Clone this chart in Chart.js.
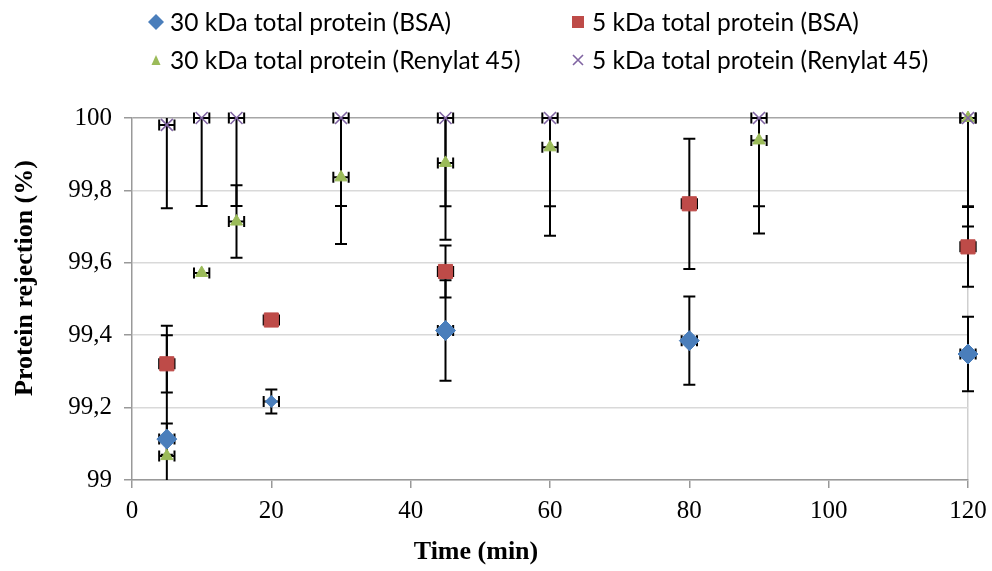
<!DOCTYPE html>
<html>
<head>
<meta charset="utf-8">
<title>Protein rejection</title>
<script src="https://cdn.jsdelivr.net/npm/chart.js@4.4.1/dist/chart.umd.min.js"></script>
<style>
  html, body { margin: 0; padding: 0; background: #fff; }
  #wrap { position: relative; width: 992px; height: 571px; }
  #legend { position: absolute; left: 0; top: 0; width: 992px; height: 80px; font-family: Lato, "Noto Sans", sans-serif; font-size: 24.5px; color: #000; }
  .item { position: absolute; height: 30px; line-height: 30px; white-space: nowrap; display: flex; align-items: center; }
  .item svg { width: 16px; height: 16px; margin-right: 6px; flex: none; }
</style>
</head>
<body>
<div id="wrap">
  <canvas id="myChart" width="992" height="571"></canvas>
  <div id="legend"></div>
</div>
<script>
// time points (min)
const timeBSA = [5, 20, 45, 80, 120];
const timeRen = [5, 10, 15, 30, 45, 60, 90, 120];

// protein rejection (%) and error (+/-)
const bsa30 = [99.113, 99.217, 99.413, 99.385, 99.348];
const bsa30Err = [0.043, 0.033, 0.139, 0.122, 0.103];
const bsa5 = [99.321, 99.442, 99.576, 99.763, 99.644];
const bsa5Err = [0.079, 0, 0.072, 0.18, 0.11];
const ren30 = [99.066, 99.572, 99.714, 99.836, 99.876, 99.919, 99.938, 100];
const ren30Err = [0.36, 0, 0.1, 0.184, 0.212, 0.244, 0.257, 0.3];
const ren5 = [99.981, 100, 100, 100, 100, 100, 100, 100];
const ren5Err = [0.23, 0.243, 0.243, 0.243, 0.244, 0.244, 0.244, 0.244];
const timeErr = 1.1; // small x error on every point

const seriesNames = [
  '30 kDa total protein (BSA)',
  '5 kDa total protein (BSA)',
  '30 kDa total protein (Renylat 45)',
  '5 kDa total protein (Renylat 45)'
];
const xTitle = 'Time (min)';
const yTitle = 'Protein rejection (%)';

const colors = ['#4a7ebb', '#be4b48', '#9bbb59', '#8064a2'];

function points(times, vals, errs) {
  return times.map((t, i) => ({ x: t, y: vals[i], yErr: errs[i], xErr: timeErr }));
}

// legend in two columns like the original
const legendIcons = [
  '<polygon points="8,0 16,8 8,16 0,8" fill="' + colors[0] + '"/>',
  '<rect x="2" y="2" width="12" height="12" fill="' + colors[1] + '"/>',
  '<polygon points="8,3 12.5,13 3.5,13" fill="' + colors[2] + '"/>',
  '<path d="M3,3 L13,13 M13,3 L3,13" stroke="' + colors[3] + '" stroke-width="1.6"/>'
];
const legendPos = [[148, 7], [570, 7], [148, 45], [570, 45]];
const legend = document.getElementById('legend');
seriesNames.forEach((name, i) => {
  const d = document.createElement('div');
  d.className = 'item';
  d.style.left = legendPos[i][0] + 'px';
  d.style.top = legendPos[i][1] + 'px';
  d.innerHTML = '<svg viewBox="0 0 16 16">' + legendIcons[i] + '</svg><span>' + name + '</span>';
  legend.appendChild(d);
});

// error bars, drawn under the markers
const errorBars = {
  id: 'errorBars',
  beforeDatasetsDraw(chart) {
    const { ctx, chartArea, scales } = chart;
    const x = scales.x, y = scales.y;
    ctx.save();
    ctx.strokeStyle = '#000';
    ctx.lineWidth = 2;
    chart.data.datasets.forEach(ds => {
      ds.data.forEach(p => {
        const px = x.getPixelForValue(p.x);
        const py = y.getPixelForValue(p.y);
        if (p.yErr > 0) {
          let top = y.getPixelForValue(p.y + p.yErr);
          let bot = y.getPixelForValue(p.y - p.yErr);
          const topCap = top >= chartArea.top - 1;
          const botCap = bot <= chartArea.bottom + 1;
          top = Math.max(top, chartArea.top);
          bot = Math.min(bot, chartArea.bottom);
          ctx.beginPath();
          ctx.moveTo(px, top); ctx.lineTo(px, bot);
          if (topCap) { ctx.moveTo(px - 6, top); ctx.lineTo(px + 6, top); }
          if (botCap) { ctx.moveTo(px - 6, bot); ctx.lineTo(px + 6, bot); }
          ctx.stroke();
        }
        const l = x.getPixelForValue(p.x - p.xErr);
        const r = x.getPixelForValue(p.x + p.xErr);
        ctx.beginPath();
        ctx.moveTo(l, py); ctx.lineTo(r, py);
        ctx.moveTo(l, py - 5.5); ctx.lineTo(l, py + 5.5);
        ctx.moveTo(r, py - 5.5); ctx.lineTo(r, py + 5.5);
        ctx.stroke();
      });
    });
    ctx.restore();
  }
};

// axis titles placed where the original has them
const axisTitles = {
  id: 'axisTitles',
  afterDraw(chart) {
    const { ctx, chartArea } = chart;
    ctx.save();
    ctx.fillStyle = '#000';
    ctx.font = 'bold 26px "Liberation Serif", serif';
    ctx.textAlign = 'center';
    ctx.textBaseline = 'middle';
    ctx.fillText(xTitle, 476, chartArea.bottom + 72);
    ctx.translate(25, 278);
    ctx.rotate(-Math.PI / 2);
    ctx.fillText(yTitle, 0, 0);
    ctx.restore();
  }
};

function fmtY(v) {
  const r = Math.round(v * 10) / 10;
  return Number.isInteger(r) ? String(r) : r.toFixed(1).replace('.', ',');
}

const serif = "'Liberation Serif', serif";

const myChart = new Chart('myChart', {
  type: 'scatter',
  data: {
    datasets: [
      { label: seriesNames[0], data: points(timeBSA, bsa30, bsa30Err), pointStyle: 'rectRot',
        pointRadius: c => c.dataIndex === 1 ? 6 : 10, backgroundColor: colors[0], borderColor: colors[0], borderWidth: 1, order: 3, clip: false },
      { label: seriesNames[1], data: points(timeBSA, bsa5, bsa5Err), pointStyle: 'rect',
        pointRadius: 10, backgroundColor: colors[1], borderColor: colors[1], borderWidth: 1, order: 2, clip: false },
      { label: seriesNames[2], data: points(timeRen, ren30, ren30Err), pointStyle: 'triangle',
        pointRadius: 7, backgroundColor: colors[2], borderColor: colors[2], borderWidth: 1, order: 1, clip: false },
      { label: seriesNames[3], data: points(timeRen, ren5, ren5Err), pointStyle: 'crossRot',
        pointRadius: 8.5, backgroundColor: colors[3], borderColor: colors[3], borderWidth: 1.6, order: 0, clip: false }
    ]
  },
  options: {
    responsive: false,
    animation: false,
    layout: { padding: { top: 118, right: 24, bottom: 0, left: 0 } },
    plugins: { legend: { display: false }, tooltip: { enabled: false } },
    scales: {
      x: {
        type: 'linear', min: 0, max: 120,
        ticks: { stepSize: 20, color: '#000', font: { family: serif, size: 25 }, padding: 8, maxRotation: 0 },
        grid: { color: c => c.tick && c.tick.value === 120 ? '#cfcfcf' : 'rgba(0,0,0,0)', tickColor: '#999', tickLength: 8, lineWidth: 1.5 },
        border: { color: '#999', width: 1.5 },
        afterFit: s => { s.height = 91; s.paddingRight = 0; s.paddingLeft = 0; }
      },
      y: {
        min: 99, max: 100,
        ticks: { stepSize: 0.2, color: '#000', font: { family: serif, size: 25 }, padding: 12, callback: fmtY },
        grid: { color: c => c.tick && c.tick.value === 100 ? '#a6a6a6' : '#d9d9d9', tickColor: '#999', tickLength: 8, lineWidth: 1.5 },
        border: { color: '#999', width: 1.5 },
        afterFit: s => { s.width = 132; s.paddingTop = 0; s.paddingBottom = 0; }
      }
    }
  },
  plugins: [errorBars, axisTitles]
});
</script>
</body>
</html>
